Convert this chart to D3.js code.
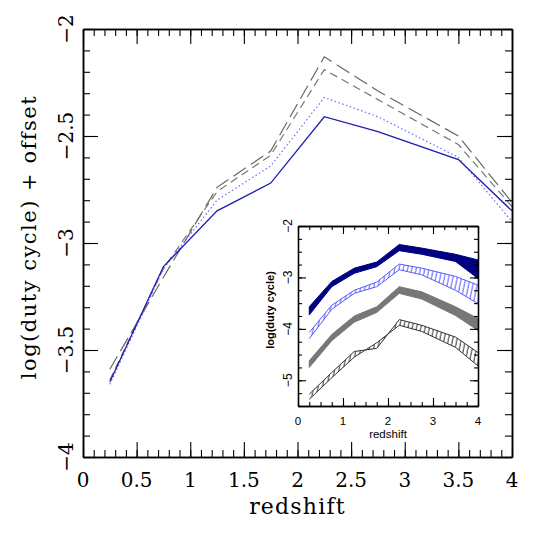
<!DOCTYPE html>
<html>
<head>
<meta charset="utf-8">
<script src="https://cdn.jsdelivr.net/npm/d3@7.9.0/dist/d3.min.js"></script>
<style>
  body { margin: 0; background: #fff; }
  svg { display: block; }
</style>
</head>
<body>
<svg></svg>
<script>
// redshift bins
const z = [0.25, 0.75, 1.25, 1.75, 2.25, 2.75, 3.5, 4];

// main panel: log(duty cycle) + offset
const solidBlue  = [-3.65, -3.11, -2.85, -2.72, -2.41, -2.48, -2.61, -2.85];
const dottedBlue = [-3.66, -3.12, -2.80, -2.64, -2.32, -2.41, -2.60, -2.90];
const shortDash  = [-3.64, -3.12, -2.76, -2.59, -2.19, -2.33, -2.54, -2.83];
const longDash   = [-3.59, -3.16, -2.74, -2.57, -2.13, -2.29, -2.50, -2.81];

// inset bands (two edges each)
const navyA  = [-3.57, -3.08, -2.82, -2.70, -2.36, -2.43, -2.55, -2.66];
const navyB  = [-3.73, -3.18, -2.92, -2.79, -2.48, -2.55, -2.69, -3.02];
const blueA  = [-4.07, -3.54, -3.25, -3.09, -2.74, -2.82, -2.98, -3.15];
const blueB  = [-4.19, -3.62, -3.31, -3.18, -2.85, -2.95, -3.25, -3.51];
const grayA  = [-4.62, -4.11, -3.75, -3.57, -3.18, -3.28, -3.57, -3.80];
const grayB  = [-4.75, -4.23, -3.87, -3.68, -3.31, -3.42, -3.74, -4.03];
const blackA = [-5.27, -4.85, -4.44, -4.38, -3.82, -3.93, -4.16, -4.46];
const blackB = [-5.37, -4.95, -4.55, -4.27, -3.93, -4.05, -4.36, -4.72];

const xTicks = [0, 0.5, 1, 1.5, 2, 2.5, 3, 3.5, 4];
const yTicks = [-4, -3.5, -3, -2.5, -2];
const insetXTicks = [0, 1, 2, 3, 4];
const insetYTicks = [-5, -4, -3, -2];

const width = 540, height = 540;
const svg = d3.select("svg").attr("width", width).attr("height", height);

const serif = "DejaVu Serif, serif";
const sans = "Liberation Sans, Arial, sans-serif";
const fmt = d => String(d).replace("-", "\u2212");

// ---------- main panel ----------
const x = d3.scaleLinear().domain([0, 4]).range([83, 512]);
const y = d3.scaleLinear().domain([-4, -2]).range([457, 29]);

function frameAxes(g, xs, ys, xt, yt, xm, ym, big, small) {
  const [x0, x1] = xs.range();
  const [y0, y1] = ys.range();
  const sets = [
    [d3.axisBottom(xs), `translate(0,${y0})`, xt, xm],
    [d3.axisTop(xs), `translate(0,${y1})`, xt, xm],
    [d3.axisLeft(ys), `translate(${x0},0)`, yt, ym],
    [d3.axisRight(ys), `translate(${x1},0)`, yt, ym]
  ];
  sets.forEach(([ax, tr, major, minor]) => {
    g.append("g").attr("transform", tr)
      .call(ax.tickValues(minor).tickSize(-small).tickSizeOuter(0).tickFormat(""));
    g.append("g").attr("transform", tr)
      .call(ax.tickValues(major).tickSize(-big).tickSizeOuter(0).tickFormat(""));
  });
  g.selectAll(".domain").attr("stroke", "#000").attr("stroke-width", 1.5);
  g.selectAll(".tick line").attr("stroke", "#000").attr("stroke-width", 1.1);
}

const main = svg.append("g");

const line = d3.line().x((d, i) => x(z[i])).y(d => y(d));

main.append("path").datum(longDash).attr("d", line)
  .attr("fill", "none").attr("stroke", "#666").attr("stroke-width", 1.2)
  .attr("stroke-dasharray", "15,6");
main.append("path").datum(shortDash).attr("d", line)
  .attr("fill", "none").attr("stroke", "#777").attr("stroke-width", 1.2)
  .attr("stroke-dasharray", "8,5");
main.append("path").datum(dottedBlue).attr("d", line)
  .attr("fill", "none").attr("stroke", "#6a6aff").attr("stroke-width", 1.2)
  .attr("stroke-dasharray", "1.5,2.5");
main.append("path").datum(solidBlue).attr("d", line)
  .attr("fill", "none").attr("stroke", "#1c1cb0").attr("stroke-width", 1.3);

frameAxes(main, x, y, xTicks, yTicks,
  d3.range(0, 4.001, 0.1), d3.range(-4, -1.999, 0.1), 15, 7);

main.selectAll(".xlab").data(xTicks).join("text")
  .attr("x", d => x(d)).attr("y", 487)
  .attr("text-anchor", "middle")
  .attr("font-family", serif).attr("font-size", 20)
  .text(d => String(d));

main.selectAll(".ylab").data(yTicks).join("text")
  .attr("transform", d => `translate(73,${y(d)}) rotate(-90)`)
  .attr("text-anchor", "middle")
  .attr("font-family", serif).attr("font-size", 20)
  .text(fmt);

main.append("text")
  .attr("x", (x(0) + x(4)) / 2).attr("y", 514)
  .attr("text-anchor", "middle")
  .attr("font-family", serif).attr("font-size", 22)
  .attr("letter-spacing", 1.2)
  .text("redshift");

main.append("text")
  .attr("transform", `translate(36,${(y(-2) + y(-4)) / 2 - 6}) rotate(-90)`)
  .attr("text-anchor", "middle")
  .attr("font-family", serif).attr("font-size", 21)
  .attr("letter-spacing", 1.5)
  .text("log(duty cycle) + offset");

// ---------- inset ----------
const ix = d3.scaleLinear().domain([0, 4]).range([298, 478]);
const iy = d3.scaleLinear().domain([-5.5, -2]).range([406, 226]);

const inset = svg.append("g");
inset.append("rect")
  .attr("x", 298).attr("y", 226).attr("width", 180).attr("height", 180)
  .attr("fill", "#fff");

const defs = svg.append("defs");
function hatch(id, color) {
  const p = defs.append("pattern").attr("id", id)
    .attr("patternUnits", "userSpaceOnUse")
    .attr("width", 4.2).attr("height", 10)
    .attr("patternTransform", "rotate(12)");
  p.append("line").attr("x1", 1).attr("y1", 0).attr("x2", 1).attr("y2", 10)
    .attr("stroke", color).attr("stroke-width", 1);
}
hatch("hatchBlue", "#5a5aff");
hatch("hatchBlack", "#333");

const band = (a, b) => d3.area()
  .x((d, i) => ix(z[i])).y0((d, i) => iy(b[i])).y1(d => iy(d))(a);
const iline = d3.line().x((d, i) => ix(z[i])).y(d => iy(d));

inset.append("path").attr("d", band(navyA, navyB))
  .attr("fill", "#000080").attr("stroke", "#000080").attr("stroke-width", 1);

inset.append("path").attr("d", band(blueA, blueB))
  .attr("fill", "url(#hatchBlue)");
[blueA, blueB].forEach(s => inset.append("path").datum(s).attr("d", iline)
  .attr("fill", "none").attr("stroke", "#5a5aff").attr("stroke-width", 1));

inset.append("path").attr("d", band(grayA, grayB))
  .attr("fill", "#777").attr("stroke", "#777").attr("stroke-width", 1);

inset.append("path").attr("d", band(blackA, blackB))
  .attr("fill", "url(#hatchBlack)");
[blackA, blackB].forEach(s => inset.append("path").datum(s).attr("d", iline)
  .attr("fill", "none").attr("stroke", "#333").attr("stroke-width", 1));

frameAxes(inset, ix, iy, insetXTicks, insetYTicks,
  d3.range(0, 4.001, 0.25), d3.range(-5.5, -1.999, 0.25), 8, 4);
inset.selectAll(".domain").attr("stroke-width", 1.3);

inset.selectAll(".ixlab").data(insetXTicks).join("text")
  .attr("x", d => ix(d)).attr("y", 425)
  .attr("text-anchor", "middle")
  .attr("font-family", sans).attr("font-size", 11.5)
  .text(d => String(d));

inset.selectAll(".iylab").data(insetYTicks).join("text")
  .attr("transform", d => `translate(292,${iy(d)}) rotate(-90)`)
  .attr("text-anchor", "middle")
  .attr("font-family", sans).attr("font-size", 12)
  .text(fmt);

inset.append("text")
  .attr("x", (ix(0) + ix(4)) / 2).attr("y", 438)
  .attr("text-anchor", "middle")
  .attr("font-family", sans).attr("font-size", 11.5)
  .text("redshift");

inset.append("text")
  .attr("transform", `translate(274,${(iy(-2) + iy(-5.5)) / 2 - 6}) rotate(-90)`)
  .attr("text-anchor", "middle")
  .attr("font-family", sans).attr("font-size", 11).attr("font-weight", "bold")
  .text("log(duty cycle)");
</script>
</body>
</html>
